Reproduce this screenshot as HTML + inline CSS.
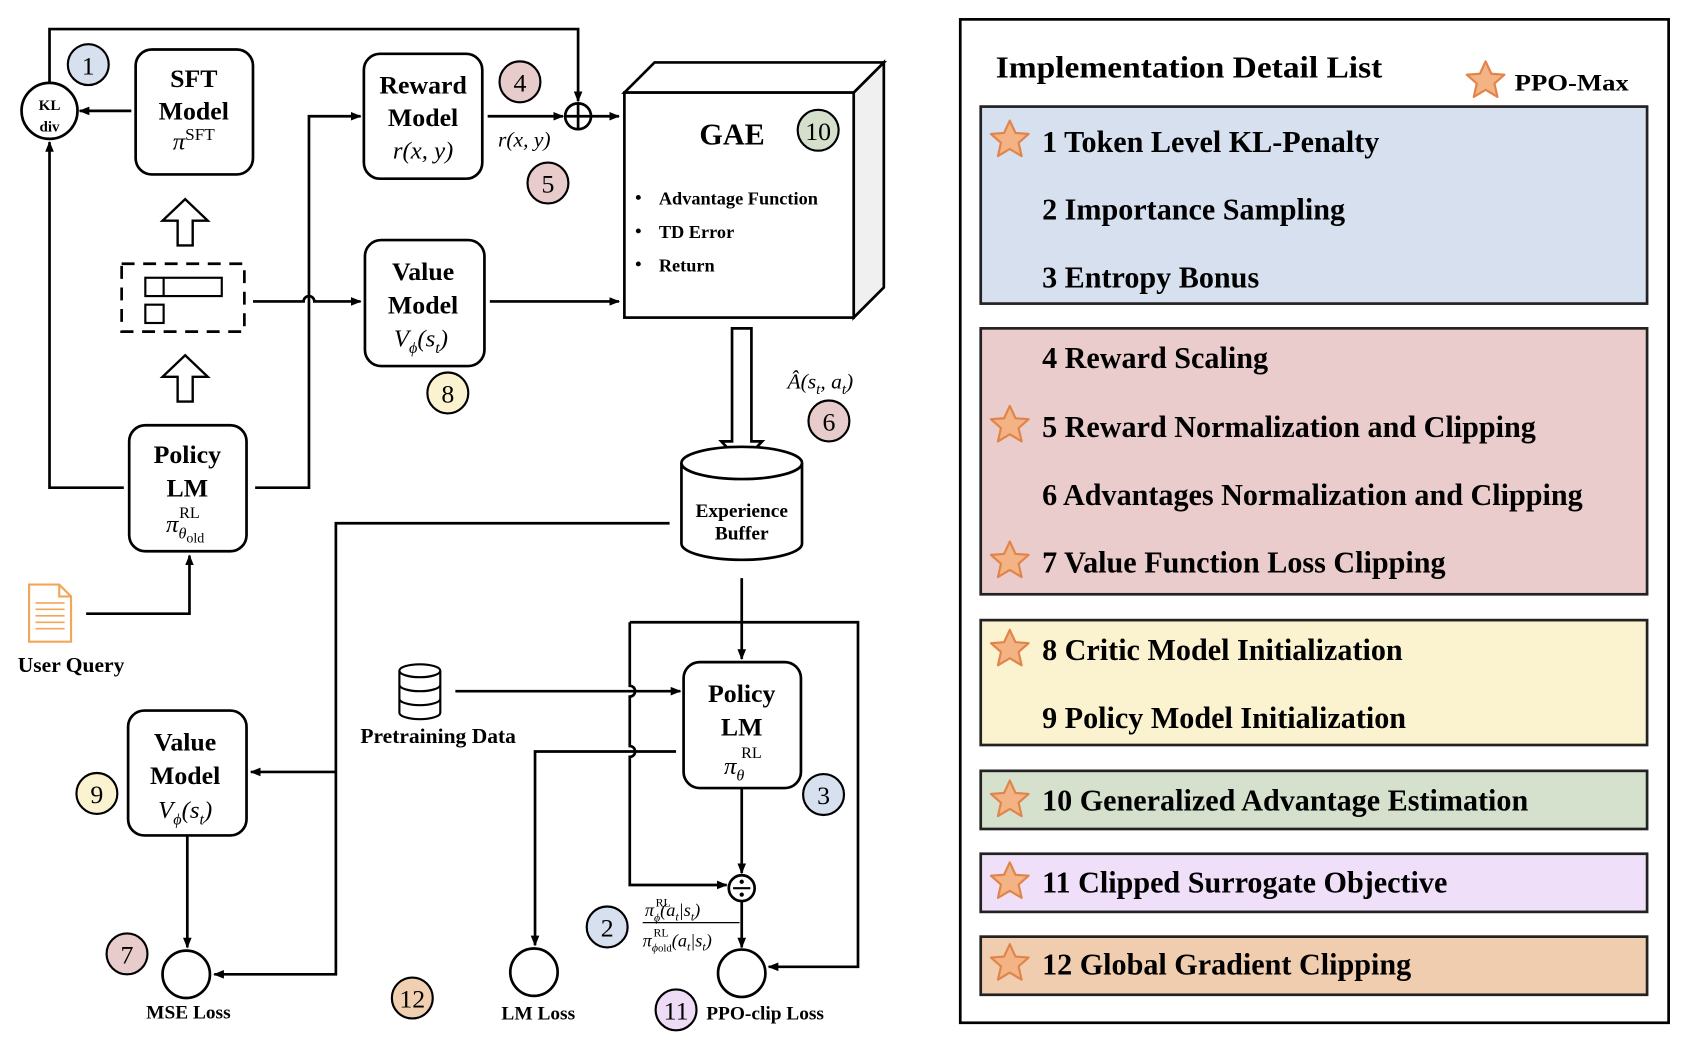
<!DOCTYPE html>
<html><head><meta charset="utf-8"><style>
html,body{margin:0;padding:0;background:#fff;}
svg{display:block;}
text{font-family:"Liberation Serif",serif;}
</style></head><body>
<svg width="1688" height="1040" viewBox="0 0 1568 966" preserveAspectRatio="none" xmlns="http://www.w3.org/2000/svg">
<defs>
<marker id="a" markerWidth="10" markerHeight="10" refX="9" refY="5" orient="auto" markerUnits="userSpaceOnUse"><path d="M0,1 L10,5 L0,9 z" fill="#000"/></marker>
<g id="star"><path d="M0,-18 L5.3,-6.5 L17.5,-5.6 L8.2,2.6 L11,15 L0,8.4 L-11,15 L-8.2,2.6 L-17.5,-5.6 L-5.3,-6.5 z" fill="#f3b384" stroke="#e0844a" stroke-width="2" stroke-linejoin="round"/></g>
</defs>
<g fill="none" stroke="#000" stroke-width="2.5">
<path d="M46,78 V27 H537 V94" marker-end="url(#a)"/>
<circle cx="46" cy="103" r="26" fill="#fff"/>
<line x1="122" y1="103" x2="74" y2="103" marker-end="url(#a)"/>
<rect x="126" y="46" width="109" height="116" rx="15"/>
<rect x="338" y="50" width="110" height="116" rx="15"/>
<line x1="453" y1="108" x2="523" y2="108" marker-end="url(#a)"/>
<circle cx="537" cy="108" r="12"/>
<line x1="525" y1="108" x2="549" y2="108"/><line x1="537" y1="96" x2="537" y2="120"/>
<line x1="549" y1="108" x2="575" y2="108" marker-end="url(#a)"/>
<rect x="339" y="223" width="111" height="117" rx="15"/>
<line x1="455" y1="280" x2="575" y2="280" marker-end="url(#a)"/>
<path d="M237,453 H287 V108 H335" marker-end="url(#a)"/>
<path d="M235,280 H282 A5,5 0 0 1 292,280 H335" marker-end="url(#a)"/>
<rect x="113" y="245" width="114" height="63" stroke-dasharray="12,8"/>
<rect x="135" y="258" width="71" height="17" stroke-width="2"/><line x1="152" y1="258" x2="152" y2="275" stroke-width="2"/>
<rect x="135" y="283" width="17" height="17" stroke-width="2"/>
<path d="M165,228 V205 H151 L172,185 L193,205 H179 V228 Z" stroke-width="2.2"/>
<path d="M165,373 V350 H151 L172,330 L193,350 H179 V373 Z" stroke-width="2.2"/>
<rect x="120" y="395" width="109" height="117" rx="15"/>
<path d="M115,453 H46 V132" marker-end="url(#a)"/>
<path d="M80,570 H176 V516" marker-end="url(#a)"/>
<path d="M793,86 L821,58 V267 L793,295 Z" fill="#f0f0f0"/>
<path d="M580,86 L608,58 H821 L793,86 Z" fill="#fff"/>
<rect x="580" y="86" width="213" height="209" fill="#fff"/>
<path d="M680,305 V410 H670 L689,430 L708,410 H698 V305 Z" fill="#fff"/>
<path d="M633,430 V505 A56,15 0 0 0 745,505 V430" fill="#fff"/>
<ellipse cx="689" cy="430" rx="56" ry="15" fill="#fff"/>
<path d="M622,486 H312 V905 H199" marker-end="url(#a)"/>
<line x1="312" y1="717" x2="233" y2="717" marker-end="url(#a)"/>
<line x1="689" y1="537" x2="689" y2="612" marker-end="url(#a)"/>
<path d="M585,578 H797 V898 H714" marker-end="url(#a)"/>
<path d="M585,578 V637 A5,5 0 0 1 585,647 V693 A5,5 0 0 1 585,703 V822 H675" marker-end="url(#a)"/>
<rect x="635" y="615" width="109" height="117" rx="15"/>
<line x1="423" y1="642" x2="632" y2="642" marker-end="url(#a)"/>
<path d="M628,698 H497 V878" marker-end="url(#a)"/>
<line x1="689" y1="732" x2="689" y2="811" marker-end="url(#a)"/>
<circle cx="689" cy="825" r="12"/>
<line x1="681" y1="825" x2="697" y2="825" stroke-width="2"/>
<line x1="689" y1="837" x2="689" y2="880" marker-end="url(#a)"/>
<rect x="119" y="660" width="110" height="116" rx="15"/>
<line x1="174" y1="776" x2="174" y2="880" marker-end="url(#a)"/>
<circle cx="173" cy="905" r="22"/><circle cx="496" cy="903" r="22"/><circle cx="689" cy="904" r="22"/>
</g>
<circle cx="689" cy="819" r="2" fill="#000"/><circle cx="689" cy="831" r="2" fill="#000"/>
<g stroke="#f2a65a" stroke-width="2" fill="#fff">
<path d="M27,543 H55 L66,554 V596 H27 Z"/>
<path d="M55,543 V554 H66" fill="none"/>
<path d="M33,560 H60 M33,566 H60 M33,572 H60 M33,578 H60 M33,584 H60" fill="none" stroke-width="1.5"/>
</g>
<g stroke="#000" stroke-width="2" fill="#fff">
<path d="M371,623 V662 A19,6 0 0 0 409,662 V623"/>
<ellipse cx="390" cy="623" rx="19" ry="6"/>
<path d="M371,636 A19,6 0 0 0 409,636 M371,649 A19,6 0 0 0 409,649" fill="none"/>
</g>
<g stroke="#000" stroke-width="2">
<circle cx="82" cy="60" r="19" fill="#d6e0ee"/>
<circle cx="483" cy="76" r="19" fill="#e8cccc"/>
<circle cx="509" cy="170" r="19" fill="#e8cccc"/>
<circle cx="416" cy="365" r="19" fill="#fbf3d0"/>
<circle cx="760" cy="121" r="19" fill="#d5e0cc"/>
<circle cx="770" cy="391" r="19" fill="#e8cccc"/>
<circle cx="765" cy="738" r="19" fill="#d6e0ee"/>
<circle cx="564" cy="861" r="19" fill="#d6e0ee"/>
<circle cx="118" cy="886" r="19" fill="#e8cccc"/>
<circle cx="90" cy="737" r="19" fill="#fbf3d0"/>
<circle cx="383" cy="927" r="19" fill="#f1cfb1"/>
<circle cx="628" cy="938" r="19" fill="#eedcf7"/>
</g>
<g font-size="24" text-anchor="middle">
<text x="82" y="69">1</text><text x="483" y="85">4</text><text x="509" y="179">5</text>
<text x="416" y="374">8</text><text x="760" y="130">10</text><text x="770" y="400">6</text>
<text x="765" y="747">3</text><text x="564" y="870">2</text><text x="118" y="895">7</text>
<text x="90" y="746">9</text><text x="383" y="936">12</text><text x="628" y="947">11</text>
</g>
<g text-anchor="middle">
<text x="46" y="102" font-size="14" font-weight="bold">KL</text><text x="46" y="122" font-size="14" font-weight="bold">div</text>
<g font-size="24" font-weight="bold">
<text x="180" y="81">SFT</text><text x="180" y="111">Model</text>
<text x="393" y="87">Reward</text><text x="393" y="117">Model</text>
<text x="393" y="260">Value</text><text x="393" y="291">Model</text>
<text x="174" y="430">Policy</text><text x="174" y="461">LM</text>
<text x="689" y="652">Policy</text><text x="689" y="683">LM</text>
<text x="172" y="697">Value</text><text x="172" y="728">Model</text>
<text x="680" y="134" font-size="28">GAE</text>
</g>
<g font-size="18" font-weight="bold">
<text x="689" y="480">Experience</text><text x="689" y="501">Buffer</text>
<text x="66" y="624" font-size="20">User Query</text>
<text x="407" y="690" font-size="20">Pretraining Data</text>
<text x="175" y="946">MSE Loss</text><text x="500" y="947">LM Loss</text>
</g>
</g>
<text x="656" y="947" font-size="18" font-weight="bold">PPO-clip Loss</text>
<g font-size="17" font-weight="bold">
<text x="590" y="189">•</text><text x="612" y="190">Advantage Function</text>
<text x="590" y="220">•</text><text x="612" y="221">TD Error</text>
<text x="590" y="251">•</text><text x="612" y="252">Return</text>
</g>
<g font-style="italic" font-size="23" text-anchor="middle">
<text x="180" y="139">π<tspan font-style="normal" font-size="16" dy="-9">SFT</tspan></text>
<text x="393" y="147">r(x, y)</text>
<text x="487" y="136" font-size="20">r(x, y)</text>
<text x="391" y="322">V<tspan font-size="15" dy="6">ϕ</tspan><tspan dy="-6">(s</tspan><tspan font-size="15" dy="6">t</tspan><tspan dy="-6">)</tspan></text>
<text x="172" y="760">V<tspan font-size="15" dy="6">ϕ</tspan><tspan dy="-6">(s</tspan><tspan font-size="15" dy="6">t</tspan><tspan dy="-6">)</tspan></text>
<text x="172" y="494">π<tspan font-size="15" dy="6">θ</tspan><tspan font-size="13" font-style="normal" dy="4">old</tspan></text>
<text x="176" y="481" font-size="15" font-style="normal">RL</text>
<text x="682" y="719">π<tspan font-size="15" dy="6">θ</tspan></text>
<text x="698" y="704" font-size="15" font-style="normal">RL</text>
<text x="762" y="361" font-size="20">Â(s<tspan font-size="14" dy="5">t</tspan><tspan dy="-5">, a</tspan><tspan font-size="14" dy="5">t</tspan><tspan dy="-5">)</tspan></text>
</g>
<g font-style="italic" font-size="17">
<text x="599" y="851">π<tspan font-size="11" dy="5">ϕ</tspan><tspan dy="-5">(a</tspan><tspan font-size="11" dy="4">t</tspan><tspan dy="-4">|s</tspan><tspan font-size="11" dy="4">t</tspan><tspan dy="-4">)</tspan></text>
<text x="609" y="842" font-size="11" font-style="normal">RL</text>
<line x1="597" y1="857" x2="687" y2="857" stroke="#000" stroke-width="1.2"/>
<text x="597" y="879">π<tspan font-size="11" dy="5">ϕ</tspan><tspan font-size="10" font-style="normal">old</tspan><tspan dy="-5">(a</tspan><tspan font-size="11" dy="4">t</tspan><tspan dy="-4">|s</tspan><tspan font-size="11" dy="4">t</tspan><tspan dy="-4">)</tspan></text>
<text x="607" y="870" font-size="11" font-style="normal">RL</text>
</g>
<rect x="892" y="18" width="658" height="932" fill="none" stroke="#000" stroke-width="2.5"/>
<text x="925" y="72" font-size="28" font-weight="bold" textLength="359" lengthAdjust="spacingAndGlyphs">Implementation Detail List</text>
<use href="#star" x="1380" y="75"/>
<text x="1407" y="84" font-size="22" font-weight="bold" textLength="106" lengthAdjust="spacingAndGlyphs">PPO-Max</text>
<g stroke="#222" stroke-width="2.5">
<rect x="911" y="99" width="619" height="183" fill="#d6e0ee"/>
<rect x="911" y="305" width="619" height="247" fill="#e9cccb"/>
<rect x="911" y="576" width="619" height="116" fill="#fbf3d0"/>
<rect x="911" y="716" width="619" height="54" fill="#d5e0cd"/>
<rect x="911" y="793" width="619" height="54" fill="#f0dff9"/>
<rect x="911" y="870" width="619" height="54" fill="#f1cdb0"/>
</g>
<g font-size="28" font-weight="bold">
<text x="968" y="141">1 Token Level KL-Penalty</text>
<text x="968" y="204">2 Importance Sampling</text>
<text x="968" y="267">3 Entropy Bonus</text>
<text x="968" y="342">4 Reward Scaling</text>
<text x="968" y="406">5 Reward Normalization and Clipping</text>
<text x="968" y="469">6 Advantages Normalization and Clipping</text>
<text x="968" y="532">7 Value Function Loss Clipping</text>
<text x="968" y="613">8 Critic Model Initialization</text>
<text x="968" y="676">9 Policy Model Initialization</text>
<text x="968" y="753">10 Generalized Advantage Estimation</text>
<text x="968" y="829">11 Clipped Surrogate Objective</text>
<text x="968" y="905">12 Global Gradient Clipping</text>
</g>
<use href="#star" x="938" y="130"/><use href="#star" x="938" y="395"/><use href="#star" x="938" y="521"/>
<use href="#star" x="938" y="603"/><use href="#star" x="938" y="743"/><use href="#star" x="938" y="819"/><use href="#star" x="938" y="895"/>
</svg>
</body></html>
